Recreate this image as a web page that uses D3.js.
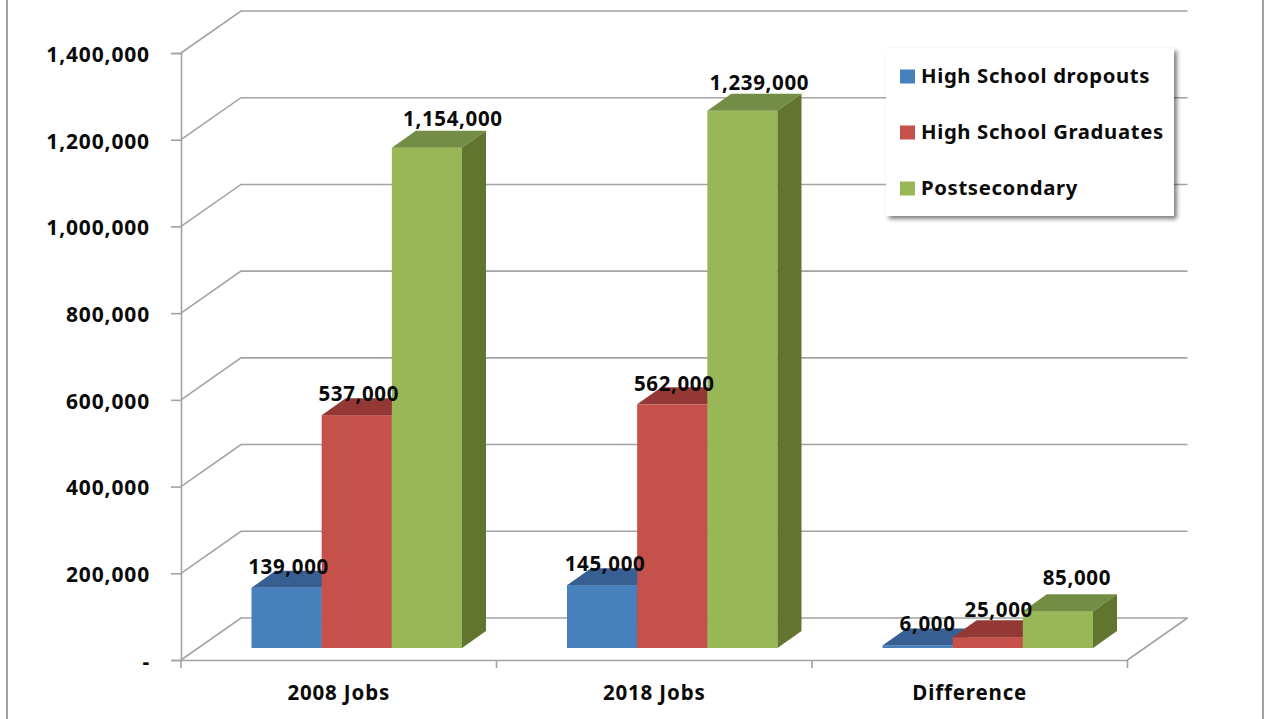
<!DOCTYPE html>
<html>
<head>
<meta charset="utf-8">
<script src="https://cdn.jsdelivr.net/npm/d3@7/dist/d3.min.js"></script>
<style>
html,body{margin:0;padding:0;background:#fff;overflow:hidden}
svg{display:block}
text{font-family:"Noto Sans",sans-serif;font-weight:700;fill:#0a0a0a}
</style>
</head>
<body>
<svg id="chart" width="1264" height="719"></svg>
<script>
// Jobs by education level
const categories = ["2008 Jobs", "2018 Jobs", "Difference"];
const seriesNames = ["High School dropouts", "High School Graduates", "Postsecondary"];
const dropouts = [139000, 145000, 6000];
const graduates = [537000, 562000, 25000];
const postsecondary = [1154000, 1239000, 85000];
const yTicks = [0, 200000, 400000, 600000, 800000, 1000000, 1200000, 1400000];

// Face shades per series: front, top, side
const fronts = ["#4681bd", "#c6504a", "#9ab757"];
const tops = ["#375f92", "#933835", "#748d44"];
const sides = ["#2f5280", "#7f2f2c", "#61752f"];

// Label nudges from the top of each bar, per series then category
const labelDx = [[2, 3, 10], [2, 2, 11], [26, 17, 19]];
const labelDy = [[-21, -21, -22], [-21, -21, -27], [-29, -28, -33]];

const values = [dropouts, graduates, postsecondary];
const svg = d3.select("#chart");

const wall = {dx: 60, dy: -42};     // depth of the chart box
const barDepth = {dx: 24, dy: -17}; // depth of one column
const floorInset = -12;             // columns stand this far behind the front edge
const gridColor = "#a3a3a3";

const y = d3.scaleLinear().domain([0, 1400000]).range([660, 53]);
const x0 = d3.scaleBand().domain(categories).range([181, 1127.5]);
const x1 = d3.scaleBand().domain(d3.range(3)).range([70.5, 281]);

// Window edges
svg.selectAll("line.edge").data([7, 1263]).join("line")
  .attr("x1", d => d).attr("x2", d => d).attr("y1", 0).attr("y2", 719)
  .attr("stroke", "#a0a0a0").attr("stroke-width", 2);

// Back wall gridlines and their returns along the side wall
const grid = svg.append("g").attr("fill", "none").attr("stroke", gridColor).attr("stroke-width", 1.6);
grid.selectAll("polyline").data(yTicks).join("polyline")
  .attr("points", d => [
    [x0.range()[0], y(d)],
    [x0.range()[0] + wall.dx, y(d) + wall.dy],
    [x0.range()[1] + wall.dx, y(d) + wall.dy]
  ].join(" "));
// Floor return on the right
grid.append("line")
  .attr("x1", x0.range()[1]).attr("y1", y(0))
  .attr("x2", x0.range()[1] + wall.dx).attr("y2", y(0) + wall.dy);

// Axes
const yAxis = d3.axisLeft(y).tickValues(yTicks).tickSize(10).tickPadding(21)
  .tickFormat(d => d === 0 ? "-" : d3.format(",")(d));
const yG = svg.append("g").attr("transform", `translate(${x0.range()[0]},0)`).call(yAxis);
yG.select(".domain").attr("stroke", gridColor).attr("stroke-width", 1.6);
yG.selectAll(".tick line").attr("stroke", gridColor).attr("stroke-width", 1.6);
yG.selectAll("text").attr("font-size", 21).attr("letter-spacing", 0.85).attr("font-family", null).attr("dy", "0.4em");

const xAxis = d3.axisBottom(x0).tickSize(0).tickPadding(25);
const xG = svg.append("g").attr("transform", `translate(0,${y(0)})`).call(xAxis);
xG.select(".domain").attr("stroke", gridColor).attr("stroke-width", 1.6);
xG.selectAll("text").attr("font-size", 20.5).attr("letter-spacing", 0.85).attr("font-family", null);
const edges = categories.map(c => x0(c)).concat(x0.range()[1]);
xG.selectAll("line.edge-tick").data(edges).join("line")
  .attr("x1", d => d).attr("x2", d => d).attr("y1", 0).attr("y2", 8)
  .attr("stroke", gridColor).attr("stroke-width", 1.6);

// Columns: series drawn left to right so each front face covers the previous side
const bars = svg.append("g");
values.forEach((vals, s) => {
  categories.forEach((cat, c) => {
    const left = x0(cat) + x1(s);
    const right = left + x1.bandwidth();
    const base = y(0) + floorInset;
    const top = y(vals[c]) + floorInset;
    const g = bars.append("g");
    g.append("rect").attr("x", left).attr("y", top)
      .attr("width", right - left).attr("height", base - top).attr("fill", fronts[s]);
    g.append("polygon").attr("fill", tops[s]).attr("points", [
      [left, top], [left + barDepth.dx, top + barDepth.dy],
      [right + barDepth.dx, top + barDepth.dy], [right, top]].join(" "));
    g.append("polygon").attr("fill", sides[s]).attr("points", [
      [right, top], [right + barDepth.dx, top + barDepth.dy],
      [right + barDepth.dx, base + barDepth.dy], [right, base]].join(" "));
  });
});

// Value labels sit above all the columns
const labels = svg.append("g").attr("text-anchor", "middle").attr("font-size", 20.5).attr("letter-spacing", 0.65);
values.forEach((vals, s) => {
  categories.forEach((cat, c) => {
    labels.append("text")
      .attr("x", x0(cat) + x1(s) + x1.bandwidth() / 2 + labelDx[s][c])
      .attr("y", y(vals[c]) + floorInset + labelDy[s][c])
      .attr("dy", "0.35em")
      .text(d3.format(",")(vals[c]));
  });
});

// Legend
const defs = svg.append("defs");
const shadow = defs.append("filter").attr("id", "legend-shadow")
  .attr("x", "-5%").attr("y", "-5%").attr("width", "112%").attr("height", "115%");
shadow.append("feDropShadow").attr("dx", 3).attr("dy", 3).attr("stdDeviation", 2.2)
  .attr("flood-color", "#000").attr("flood-opacity", 0.5);
const legend = svg.append("g").attr("transform", "translate(886,48)");
legend.append("rect").attr("width", 288).attr("height", 168).attr("fill", "#fff")
  .attr("filter", "url(#legend-shadow)");
const row = d3.scalePoint().domain(seriesNames).range([28.5, 140.5]);
const items = legend.selectAll("g.item").data(seriesNames).join("g")
  .attr("transform", d => `translate(0,${row(d)})`);
items.append("rect").attr("x", 14).attr("y", -7).attr("width", 15).attr("height", 14)
  .attr("fill", (d, i) => fronts[i]);
items.append("text").attr("x", 35).attr("dy", "0.3em")
  .attr("font-size", 20.3).attr("letter-spacing", 0.65).text(d => d);
</script>
</body>
</html>
